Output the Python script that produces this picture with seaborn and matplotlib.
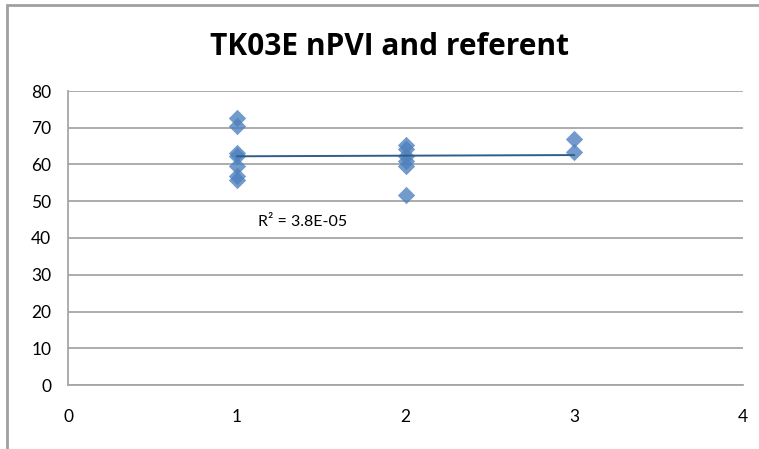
import matplotlib
matplotlib.use("Agg")
import matplotlib.pyplot as plt
from matplotlib.patches import Rectangle
import numpy as np
import pandas as pd
import seaborn as sns

# Referent group (x) and nPVI values (y)
group = [1, 1, 1, 1, 1, 1, 1,
         2, 2, 2, 2, 2, 2,
         3, 3]
npvi = [72.6, 70.6, 63.2, 62.2, 59.5, 57.0, 55.7,
        65.2, 64.3, 62.3, 61.0, 59.7, 51.6,
        66.9, 63.4]

x_ticks = [0, 1, 2, 3, 4]
y_ticks = [0, 10, 20, 30, 40, 50, 60, 70, 80]
title = "TK03E nPVI and referent"
r2_label = "R² = 3.8E-05"

df = pd.DataFrame({"referent": group, "nPVI": npvi})

sns.set_theme(style="white")
plt.rcParams["font.family"] = ["Lato", "DejaVu Sans"]

fig = plt.figure(figsize=(7.59, 4.49), dpi=100)
ax = fig.add_axes([68 / 759, 64 / 449, 675 / 759, 294 / 449])

grid_c = "#A6A6A6"
ax.set_axisbelow(True)
ax.yaxis.grid(True, color=grid_c, linewidth=1.3)

sns.regplot(data=df, x="referent", y="nPVI", ax=ax, ci=None, truncate=True,
            marker="D",
            scatter_kws={"s": 78, "color": "#4F81BD", "linewidths": 0, "zorder": 3},
            line_kws={"color": "#2E5E8A", "linewidth": 1.4, "zorder": 4})

ax.set_xlim(0, 4)
ax.set_ylim(0, 80)
ax.set_xticks(x_ticks)
ax.set_yticks(y_ticks)
ax.set_xlabel("")
ax.set_ylabel("")

for side in ["top", "right"]:
    ax.spines[side].set_visible(False)
for side in ["left", "bottom"]:
    ax.spines[side].set_color(grid_c)
    ax.spines[side].set_linewidth(1.3)

ax.tick_params(axis="both", which="both", direction="out", length=6,
               width=1.3, color=grid_c, labelsize=12.5, labelcolor="#000000")
ax.tick_params(axis="x", pad=11)
ax.tick_params(axis="y", pad=6)

ax.text(0.281, 0.555, r2_label, transform=ax.transAxes, fontsize=11.5,
        color="#000000", va="center", ha="left")

fig.text(390 / 759, 1 - 47 / 449, title, fontsize=21.5, fontweight="bold",
         family=["Open Sans", "DejaVu Sans"],
         ha="center", va="center", color="#000000")

# Chart-area border
fig.patches.append(Rectangle((7 / 759, -0.1), 1.2, 1 - 5.5 / 449 + 0.1,
                             transform=fig.transFigure, fill=False,
                             edgecolor="#A0A0A0", linewidth=2))

fig.savefig("out.png", dpi=100)
